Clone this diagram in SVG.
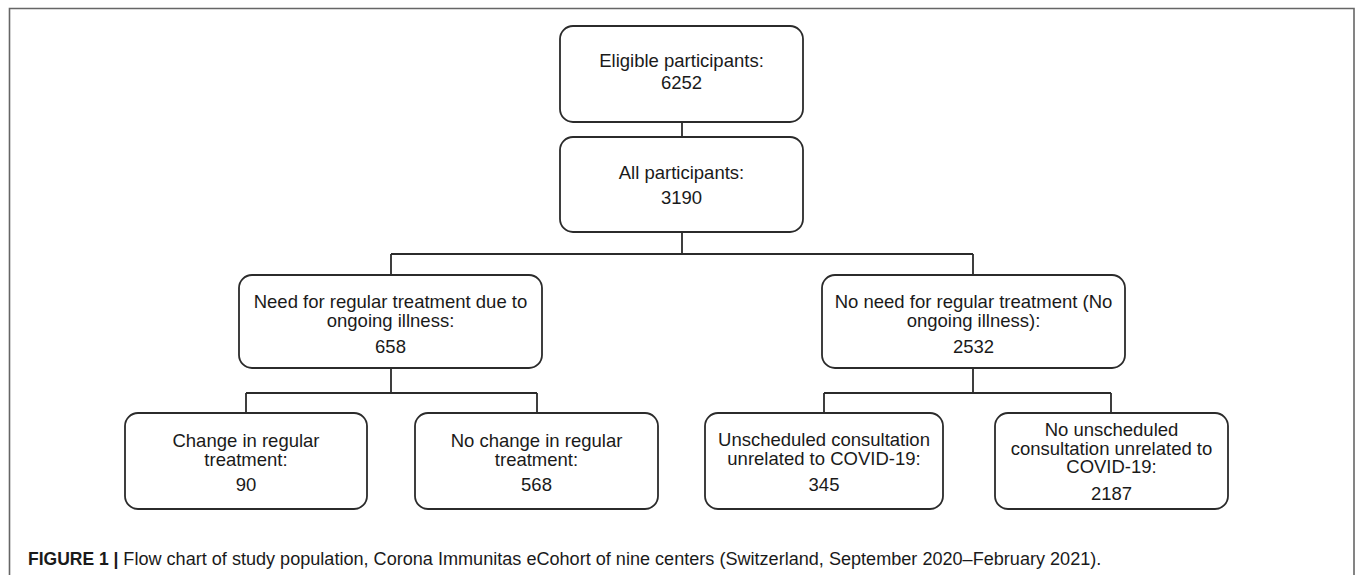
<svg xmlns="http://www.w3.org/2000/svg" width="1355" height="575" viewBox="0 0 1355 575">
<style>
.box{fill:#fff;stroke:#2b2b2b;stroke-width:1.8}
.t{font-family:"Liberation Sans",Arial,sans-serif;font-size:18.5px;fill:#1a1a1a;text-anchor:middle}
.c{stroke:#2b2b2b;stroke-width:1.8;fill:none}
.cap{font-family:"Liberation Sans",Arial,sans-serif;font-size:17.5px;fill:#1a1a1a}
</style>
<rect x="0" y="0" width="1355" height="575" fill="#fff"/>
<path d="M9.5 575 V8.5 H1354 V575" fill="none" stroke="#666" stroke-width="1.6"/>
<g id="connectors">
<path class="c" d="M682 122 V137"/>
<path class="c" d="M682 232 V254 M391 254 H973 M391 254 V275 M973 254 V275"/>
<path class="c" d="M391 368 V393 M246 393 H537 M246 393 V413 M537 393 V413"/>
<path class="c" d="M973 368 V393 M824 393 H1111 M824 393 V413 M1111 393 V413"/>
</g>
<g id="eligible">
<rect class="box" x="560" y="26" width="243" height="96" rx="13"/>
<text class="t" x="681.5" y="66.5">Eligible participants:</text>
<text class="t" x="681.5" y="88.5">6252</text>
</g>
<g id="all">
<rect class="box" x="560" y="137" width="243" height="95" rx="13"/>
<text class="t" x="681.5" y="178.5">All participants:</text>
<text class="t" x="681.5" y="203.5">3190</text>
</g>
<g id="need">
<rect class="box" x="239" y="275" width="303" height="93" rx="13"/>
<text class="t" x="390.5" y="307.5">Need for regular treatment due to</text>
<text class="t" x="390.5" y="326.5">ongoing illness:</text>
<text class="t" x="390.5" y="352.5">658</text>
</g>
<g id="noneed">
<rect class="box" x="822" y="275" width="303" height="93" rx="13"/>
<text class="t" x="973.5" y="307.5">No need for regular treatment (No</text>
<text class="t" x="973.5" y="326.5">ongoing illness):</text>
<text class="t" x="973.5" y="352.5">2532</text>
</g>
<g id="change">
<rect class="box" x="125" y="413" width="242" height="96" rx="13"/>
<text class="t" x="246" y="447">Change in regular</text>
<text class="t" x="246" y="466">treatment:</text>
<text class="t" x="246" y="491">90</text>
</g>
<g id="nochange">
<rect class="box" x="415" y="413" width="243" height="96" rx="13"/>
<text class="t" x="536.5" y="447">No change in regular</text>
<text class="t" x="536.5" y="466">treatment:</text>
<text class="t" x="536.5" y="491">568</text>
</g>
<g id="unscheduled">
<rect class="box" x="705" y="413" width="238" height="96" rx="13"/>
<text class="t" x="824" y="446">Unscheduled consultation</text>
<text class="t" x="824" y="465">unrelated to COVID-19:</text>
<text class="t" x="824" y="491">345</text>
</g>
<g id="nounscheduled">
<rect class="box" x="995" y="413" width="233" height="96" rx="13"/>
<text class="t" x="1111.5" y="436">No unscheduled</text>
<text class="t" x="1111.5" y="454.5">consultation unrelated to</text>
<text class="t" x="1111.5" y="473">COVID-19:</text>
<text class="t" x="1111.5" y="500">2187</text>
</g>
<g id="caption">
<text class="cap" x="28" y="565"><tspan font-weight="bold">FIGURE 1 |</tspan> <tspan textLength="978" lengthAdjust="spacingAndGlyphs">Flow chart of study population, Corona Immunitas eCohort of nine centers (Switzerland, September 2020–February 2021).</tspan></text>
</g>
</svg>
